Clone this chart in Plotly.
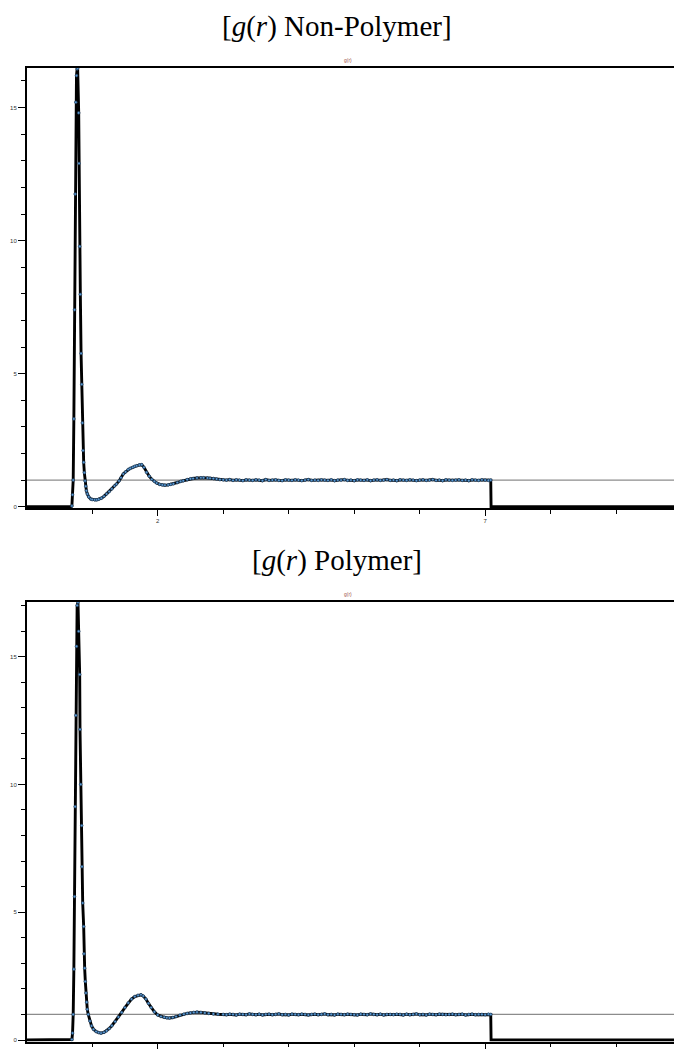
import numpy as np
import plotly.graph_objects as go

# ---------------- data: radial distribution functions ----------------
# Non-polymer system: first shell peak and damped oscillations
r_np_shell = [0.69, 0.70, 0.71, 0.72, 0.73, 0.74, 0.75, 0.76, 0.77, 0.778,
              0.794, 0.799, 0.809, 0.819, 0.830, 0.840, 0.850, 0.860, 0.870,
              0.880, 0.891, 0.901, 0.911, 0.926, 0.947, 0.977,
              1.00, 1.04, 1.07, 1.10, 1.14, 1.18, 1.22, 1.26, 1.30, 1.34,
              1.37, 1.41, 1.44, 1.475, 1.51, 1.55, 1.58, 1.62, 1.65, 1.68,
              1.72, 1.756, 1.79, 1.83, 1.87, 1.91, 1.95, 1.985, 2.03, 2.07,
              2.11, 2.16, 2.20, 2.24, 2.30, 2.35, 2.39, 2.45, 2.50, 2.54,
              2.60, 2.66, 2.70, 2.76, 2.80, 2.85, 2.90, 2.95, 3.00]
g_np_shell = [0.03, 0.45, 1.0, 3.3, 7.4, 11.75, 15.2, 16.2, 16.45, 16.48,
              14.8, 12.9, 9.78, 7.98, 5.76, 4.60, 3.15, 2.11, 1.67,
              1.28, 0.97, 0.77, 0.60, 0.48, 0.37, 0.29,
              0.27, 0.26, 0.26, 0.28, 0.32, 0.39, 0.48, 0.57, 0.67, 0.78,
              0.85, 0.97, 1.09, 1.23, 1.31, 1.40, 1.44, 1.48, 1.52, 1.54,
              1.57, 1.58, 1.48, 1.29, 1.15, 1.03, 0.95, 0.89, 0.84, 0.82,
              0.81, 0.82, 0.84, 0.86, 0.91, 0.95, 0.975, 1.02, 1.05, 1.06,
              1.08, 1.09, 1.09, 1.08, 1.07, 1.06, 1.04, 1.02, 1.01]
g_np_tail = [1.00, 1.02, 0.99, 1.01, 1.00, 0.98, 1.01, 1.00, 0.99, 1.01,
             1.00, 0.98, 1.02, 0.99, 1.00, 1.01, 0.99, 0.98, 1.01, 1.00,
             0.99, 1.01, 1.00, 0.98, 1.00, 1.02, 0.99, 1.00, 0.99, 1.01,
             1.00, 0.99, 1.01, 0.98, 1.00, 1.00, 1.02, 0.99, 1.00, 0.98,
             1.01, 1.00, 0.99, 1.01, 0.98, 1.00, 1.01, 0.99, 1.00, 1.02,
             0.99, 1.00, 0.98, 1.01, 1.00, 0.99, 1.01, 1.00, 0.98, 1.00,
             1.01, 0.99, 1.00, 1.02, 0.99, 1.00, 0.98, 1.01, 1.00, 0.99,
             1.00, 1.01, 0.99, 1.00, 0.98, 1.01, 1.00, 0.99, 1.01, 1.00,
             0.99]

# Polymer system
r_p_shell = [0.69, 0.70, 0.71, 0.72, 0.73, 0.74, 0.75, 0.76, 0.77, 0.783,
             0.794, 0.809, 0.814, 0.824, 0.840, 0.844, 0.855, 0.870, 0.875,
             0.885, 0.895, 0.905, 0.915, 0.925, 0.94, 0.965, 0.99,
             1.02, 1.06, 1.10, 1.135, 1.18, 1.22, 1.26, 1.30, 1.35, 1.40,
             1.45, 1.50, 1.55, 1.60, 1.65, 1.70, 1.745, 1.78, 1.82, 1.86,
             1.90, 1.95, 2.00, 2.05, 2.10, 2.14, 2.18, 2.23, 2.28, 2.34,
             2.40, 2.45, 2.50, 2.55, 2.60, 2.66, 2.72, 2.78, 2.85, 2.92,
             3.00]
g_p_shell = [0.02, 0.27, 1.0, 2.77, 5.61, 9.13, 12.7, 15.4, 17.0, 17.13,
             15.99, 14.3, 12.15, 10.0, 8.39, 6.78, 5.36, 4.44, 3.37,
             2.81, 2.29, 1.84, 1.48, 1.20, 1.0, 0.74, 0.55,
             0.42, 0.33, 0.29, 0.27, 0.30, 0.36, 0.45, 0.56, 0.72, 0.90,
             1.08, 1.27, 1.45, 1.60, 1.70, 1.75, 1.77, 1.72, 1.60, 1.43,
             1.27, 1.10, 0.98, 0.92, 0.89, 0.87, 0.86, 0.88, 0.92, 0.97,
             1.01, 1.04, 1.06, 1.08, 1.09, 1.08, 1.06, 1.04, 1.02, 1.01,
             1.00]
g_p_tail = [0.99, 1.01, 1.00, 0.98, 1.01, 1.00, 0.99, 1.02, 1.00, 0.99,
            1.01, 0.98, 1.00, 1.01, 0.99, 1.00, 1.02, 0.99, 1.00, 0.98,
            1.01, 1.00, 0.99, 1.01, 1.00, 0.98, 1.00, 1.01, 0.99, 1.00,
            1.02, 0.99, 1.00, 0.98, 1.01, 1.00, 0.99, 1.01, 1.00, 0.99,
            0.98, 1.01, 1.00, 0.99, 1.02, 1.00, 0.99, 1.01, 0.98, 1.00,
            1.00, 0.99, 1.01, 1.00, 0.98, 1.01, 0.99, 1.00, 1.02, 0.99,
            1.00, 0.98, 1.01, 1.00, 0.99, 1.01, 1.00, 0.99, 1.00, 1.01,
            0.99, 1.00, 1.01, 0.98, 1.00, 1.01, 0.99, 1.00, 1.00, 0.99,
            1.01]

r_tail = np.round(np.arange(3.05, 7.051, 0.05), 2)   # histogram bin centres
r_cutoff = 7.09                                      # g(r) evaluated up to here
r_start, r_end = 0.0, 9.883

x_tickvals = [2, 7]
x_minorvals = [1, 3, 4, 5, 6, 8, 9]
y_tickvals = [0, 5, 10, 15]
panel_titles = ["[<i>g</i>(<i>r</i>) Non-Polymer]", "[<i>g</i>(<i>r</i>) Polymer]"]
panel_ymax = [16.48, 17.13]


def full_curve(r_shell, g_shell, g_tail):
    r = [r_start, r_shell[0] - 0.01] + list(r_shell) + list(r_tail) + [r_cutoff - 0.005, r_cutoff, r_end]
    g = [0.0, 0.0] + list(g_shell) + list(g_tail) + [1.0, 0.0, 0.0]
    return np.array(r), np.array(g)


W, H = 674, 1052
fig = go.Figure()

# pixel layout of the two panels (top edge, zero line)
panels = [dict(top=68.3, zero=507.7), dict(top=603.3, zero=1042.0)]
ymin = -0.06

curves = [(r_np_shell, g_np_shell, g_np_tail), (r_p_shell, g_p_shell, g_p_tail)]

for i, ((rs, gs, gt), pan, ymax, title) in enumerate(zip(curves, panels, panel_ymax, panel_titles)):
    xa = "x" if i == 0 else "x2"
    ya = "y" if i == 0 else "y2"
    r, g = full_curve(rs, gs, gt)
    # the trace line
    fig.add_trace(go.Scatter(x=r, y=g, mode="lines", xaxis=xa, yaxis=ya,
                             line=dict(color="black", width=2.9),
                             hoverinfo="skip", showlegend=False))
    # sample points
    mask = g > 0
    fig.add_trace(go.Scatter(x=r[mask], y=g[mask], mode="markers", xaxis=xa, yaxis=ya,
                             marker=dict(size=2.7, color="#5b9bd5",
                                         line=dict(color="#1c3a57", width=0.7)),
                             cliponaxis=False, showlegend=False))

    px_per_unit = (pan["zero"] - pan["top"]) / ymax
    bottom_px = pan["zero"] - ymin * px_per_unit
    dom = [1 - bottom_px / H, 1 - pan["top"] / H]

    axis_common = dict(showline=True, linecolor="black", linewidth=1.5,
                       ticks="outside", tickcolor="black", tickwidth=1,
                       showgrid=False, zeroline=False,
                       tickfont=dict(family="Liberation Sans, Arial", size=6, color="#333"))
    xkey = "xaxis" if i == 0 else "xaxis2"
    ykey = "yaxis" if i == 0 else "yaxis2"
    fig.update_layout(**{
        xkey: dict(axis_common, domain=[26.7 / W, 1.0], range=[r_start, r_end],
                   anchor=ya, mirror=True, tickmode="array", tickvals=x_tickvals,
                   ticklen=6, showticklabels=(i == 0),
                   minor=dict(tickmode="array", tickvals=x_minorvals, ticklen=4,
                              tickcolor="black", ticks="outside")),
        ykey: dict(axis_common, domain=dom, range=[ymin, ymax], anchor=xa,
                   tickmode="array", tickvals=y_tickvals, ticklen=7,
                   minor=dict(tickmode="array",
                              tickvals=[v for v in range(1, int(ymax) + 1) if v % 5],
                              ticklen=4, tickcolor="black", ticks="outside")),
    })

    # reference line g(r) = 1
    fig.add_shape(type="line", xref=f"{xa} domain", yref=ya, x0=0, x1=1, y0=1, y1=1,
                  line=dict(color="#8c8c8c", width=1.2), layer="below")

    # panel heading and small axis caption
    fig.add_annotation(text=title, xref="paper", yref="paper", x=0.5,
                       y=1 - (pan["top"] - 42) / H, yanchor="middle", showarrow=False,
                       font=dict(family="Liberation Serif, Times New Roman, serif",
                                 size=29, color="black"))
    fig.add_annotation(text="g(r)", xref="paper", yref="paper", x=348 / W,
                       y=1 - (pan["top"] - 8) / H, yanchor="middle", showarrow=False,
                       font=dict(family="Liberation Sans, Arial", size=5, color="#a0524a"))

fig.update_layout(width=W, height=H, margin=dict(l=0, r=0, t=0, b=0),
                  paper_bgcolor="white", plot_bgcolor="white", showlegend=False)

fig.write_html("out.html")
